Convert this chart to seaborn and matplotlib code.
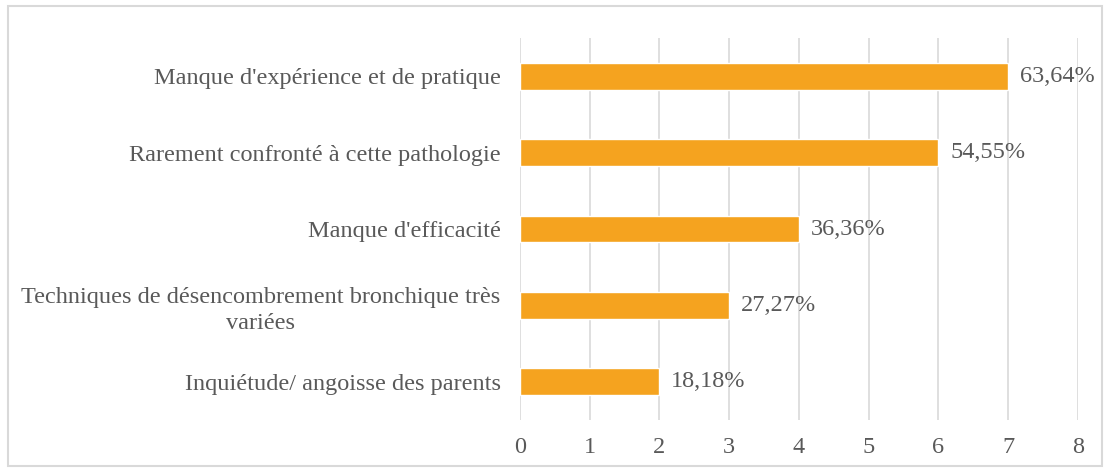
import matplotlib
matplotlib.use("Agg")
from matplotlib import pyplot as plt
from matplotlib.patches import Rectangle
import pandas as pd
import seaborn as sns

categories = [
    "Manque d'expérience et de pratique",
    "Rarement confronté à cette pathologie",
    "Manque d'efficacité",
    "Techniques de désencombrement bronchique très\nvariées",
    "Inquiétude/ angoisse des parents",
]
counts = [7, 6, 4, 3, 2]
pct_labels = ["63,64%", "54,55%", "36,36%", "27,27%", "18,18%"]
x_ticks = [0, 1, 2, 3, 4, 5, 6, 7, 8]

df = pd.DataFrame({"cause": categories, "n": counts})

sns.set_style("white")
plt.rcParams["font.family"] = ["Liberation Serif", "DejaVu Serif"]
text_col = "#595959"
fs = 17.5

fig = plt.figure(figsize=(11.1, 4.72), dpi=100)
ax = fig.add_axes([0.4685, 0.110, 0.5025, 0.8095])

sns.barplot(data=df, x="n", y="cause", color="#F5A31F", saturation=1,
            width=0.35, ax=ax, zorder=3)

for i, (v, lab) in enumerate(zip(counts, pct_labels)):
    ax.text(v + 0.17, i, lab, va="center", ha="left", fontsize=fs, color=text_col)

ax.set_xlim(0, 8)
ax.set_xticks(x_ticks)
ax.set_xticklabels([str(t) for t in x_ticks], fontsize=fs, color=text_col)
ax.set_ylim(4.5, -0.5)
for lbl in ax.get_yticklabels():
    lbl.set_fontsize(fs)
    lbl.set_color(text_col)
    lbl.set_multialignment("center")
    lbl.set_linespacing(1.3)
ax.set_xlabel("")
ax.set_ylabel("")
ax.grid(axis="x", color="#D9D9D9", linewidth=1.2, zorder=0)
ax.tick_params(axis="x", length=0, pad=12)
ax.tick_params(axis="y", length=0, pad=14)
for s in ax.spines.values():
    s.set_visible(False)

fig.patches.append(Rectangle((0.007, 0.012), 0.986, 0.976, transform=fig.transFigure,
                             fill=False, edgecolor="#D9D9D9", linewidth=1.5))

fig.savefig("out.png", dpi=100)
